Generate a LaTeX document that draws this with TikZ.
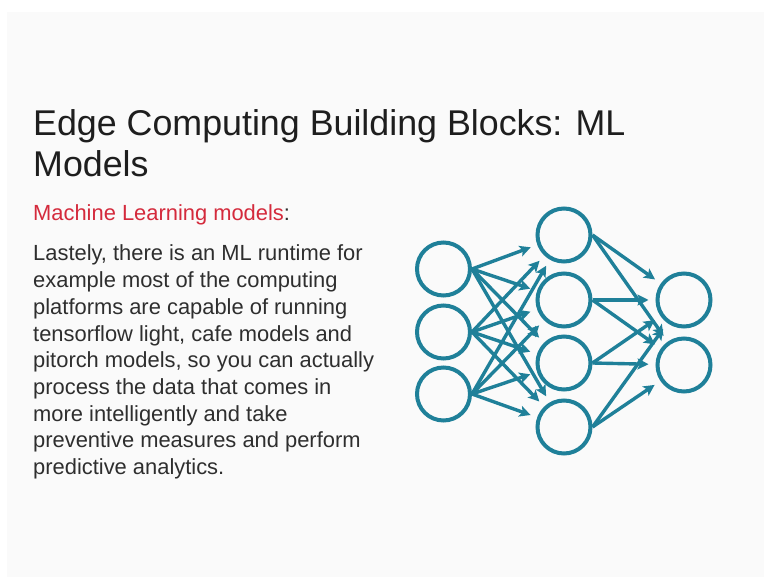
\documentclass[tikz,border=0pt]{standalone}
\usepackage{fontspec}
\setmainfont{Liberation Sans}
\usetikzlibrary{arrows.meta}
\definecolor{slidebg}{HTML}{FAFAFA}
\definecolor{netblue}{HTML}{1F8099}
\definecolor{titleink}{HTML}{1E1E1E}
\definecolor{bodyink}{HTML}{2E2E2E}
\definecolor{accentred}{HTML}{D42A3C}
\tikzset{
  neuron/.style={circle, draw=netblue, line width=4pt, minimum size=53pt, inner sep=0pt},
  link/.style={draw=netblue, line width=3.4pt, shorten >=7pt,
    -{Stealth[length=11pt, width=11pt, inset=2.5pt]}},
  titletext/.style={anchor=base west, inner sep=0pt, text=titleink, font=\fontsize{35.8}{41}\selectfont},
  bodytext/.style={anchor=base west, inner sep=0pt, text=bodyink, font=\fontsize{21.9}{26.7}\selectfont},
}
\begin{document}
\begin{tikzpicture}[x=1pt, y=-1pt]
  % page and slide area
  \useasboundingbox (0,0) rectangle (764,577);
  \fill[white] (0,0) rectangle (764,577);
  \fill[slidebg] (7,12) rectangle (764,577);

  % title
  \node[titletext] (t1) at (33,136) {Edge Computing Building Blocks: ML};
  \node[titletext] (t2) at (33,177) {Models};

  % subheading
  \node[bodytext] (sub) at (33,221) {\textcolor{accentred}{Machine Learning models}:};

  % body paragraph
  \node[bodytext] (b1) at (33,261)   {Lastely, there is an ML runtime for};
  \node[bodytext] (b2) at (33,287.7) {example most of the computing};
  \node[bodytext] (b3) at (33,314.4) {platforms are capable of running};
  \node[bodytext] (b4) at (33,341.1) {tensorflow light, cafe models and};
  \node[bodytext] (b5) at (33,367.8) {pitorch models, so you can actually};
  \node[bodytext] (b6) at (33,394.5) {process the data that comes in};
  \node[bodytext] (b7) at (33,421.2) {more intelligently and take};
  \node[bodytext] (b8) at (33,447.9) {preventive measures and perform};
  \node[bodytext] (b9) at (33,474.6) {predictive analytics.};

  % neural network: input layer
  \node[neuron] (i1) at (443.5,269) {};
  \node[neuron] (i2) at (443.5,332) {};
  \node[neuron] (i3) at (443.5,394) {};
  % hidden layer
  \node[neuron] (h1) at (564,235) {};
  \node[neuron] (h2) at (564,300) {};
  \node[neuron] (h3) at (564,363) {};
  \node[neuron] (h4) at (564,427) {};
  % output layer
  \node[neuron] (o1) at (684,300) {};
  \node[neuron] (o2) at (684,365) {};

  % connections input -> hidden
  \foreach \i in {1,2,3}{
    \foreach \h in {1,2,3,4}{
      \draw[link] (i\i.east) -- (h\h);
    }
  }
  % connections hidden -> output
  \foreach \h in {1,2,3,4}{
    \foreach \o in {1,2}{
      \draw[link] (h\h.east) -- (o\o);
    }
  }
\end{tikzpicture}
\end{document}
